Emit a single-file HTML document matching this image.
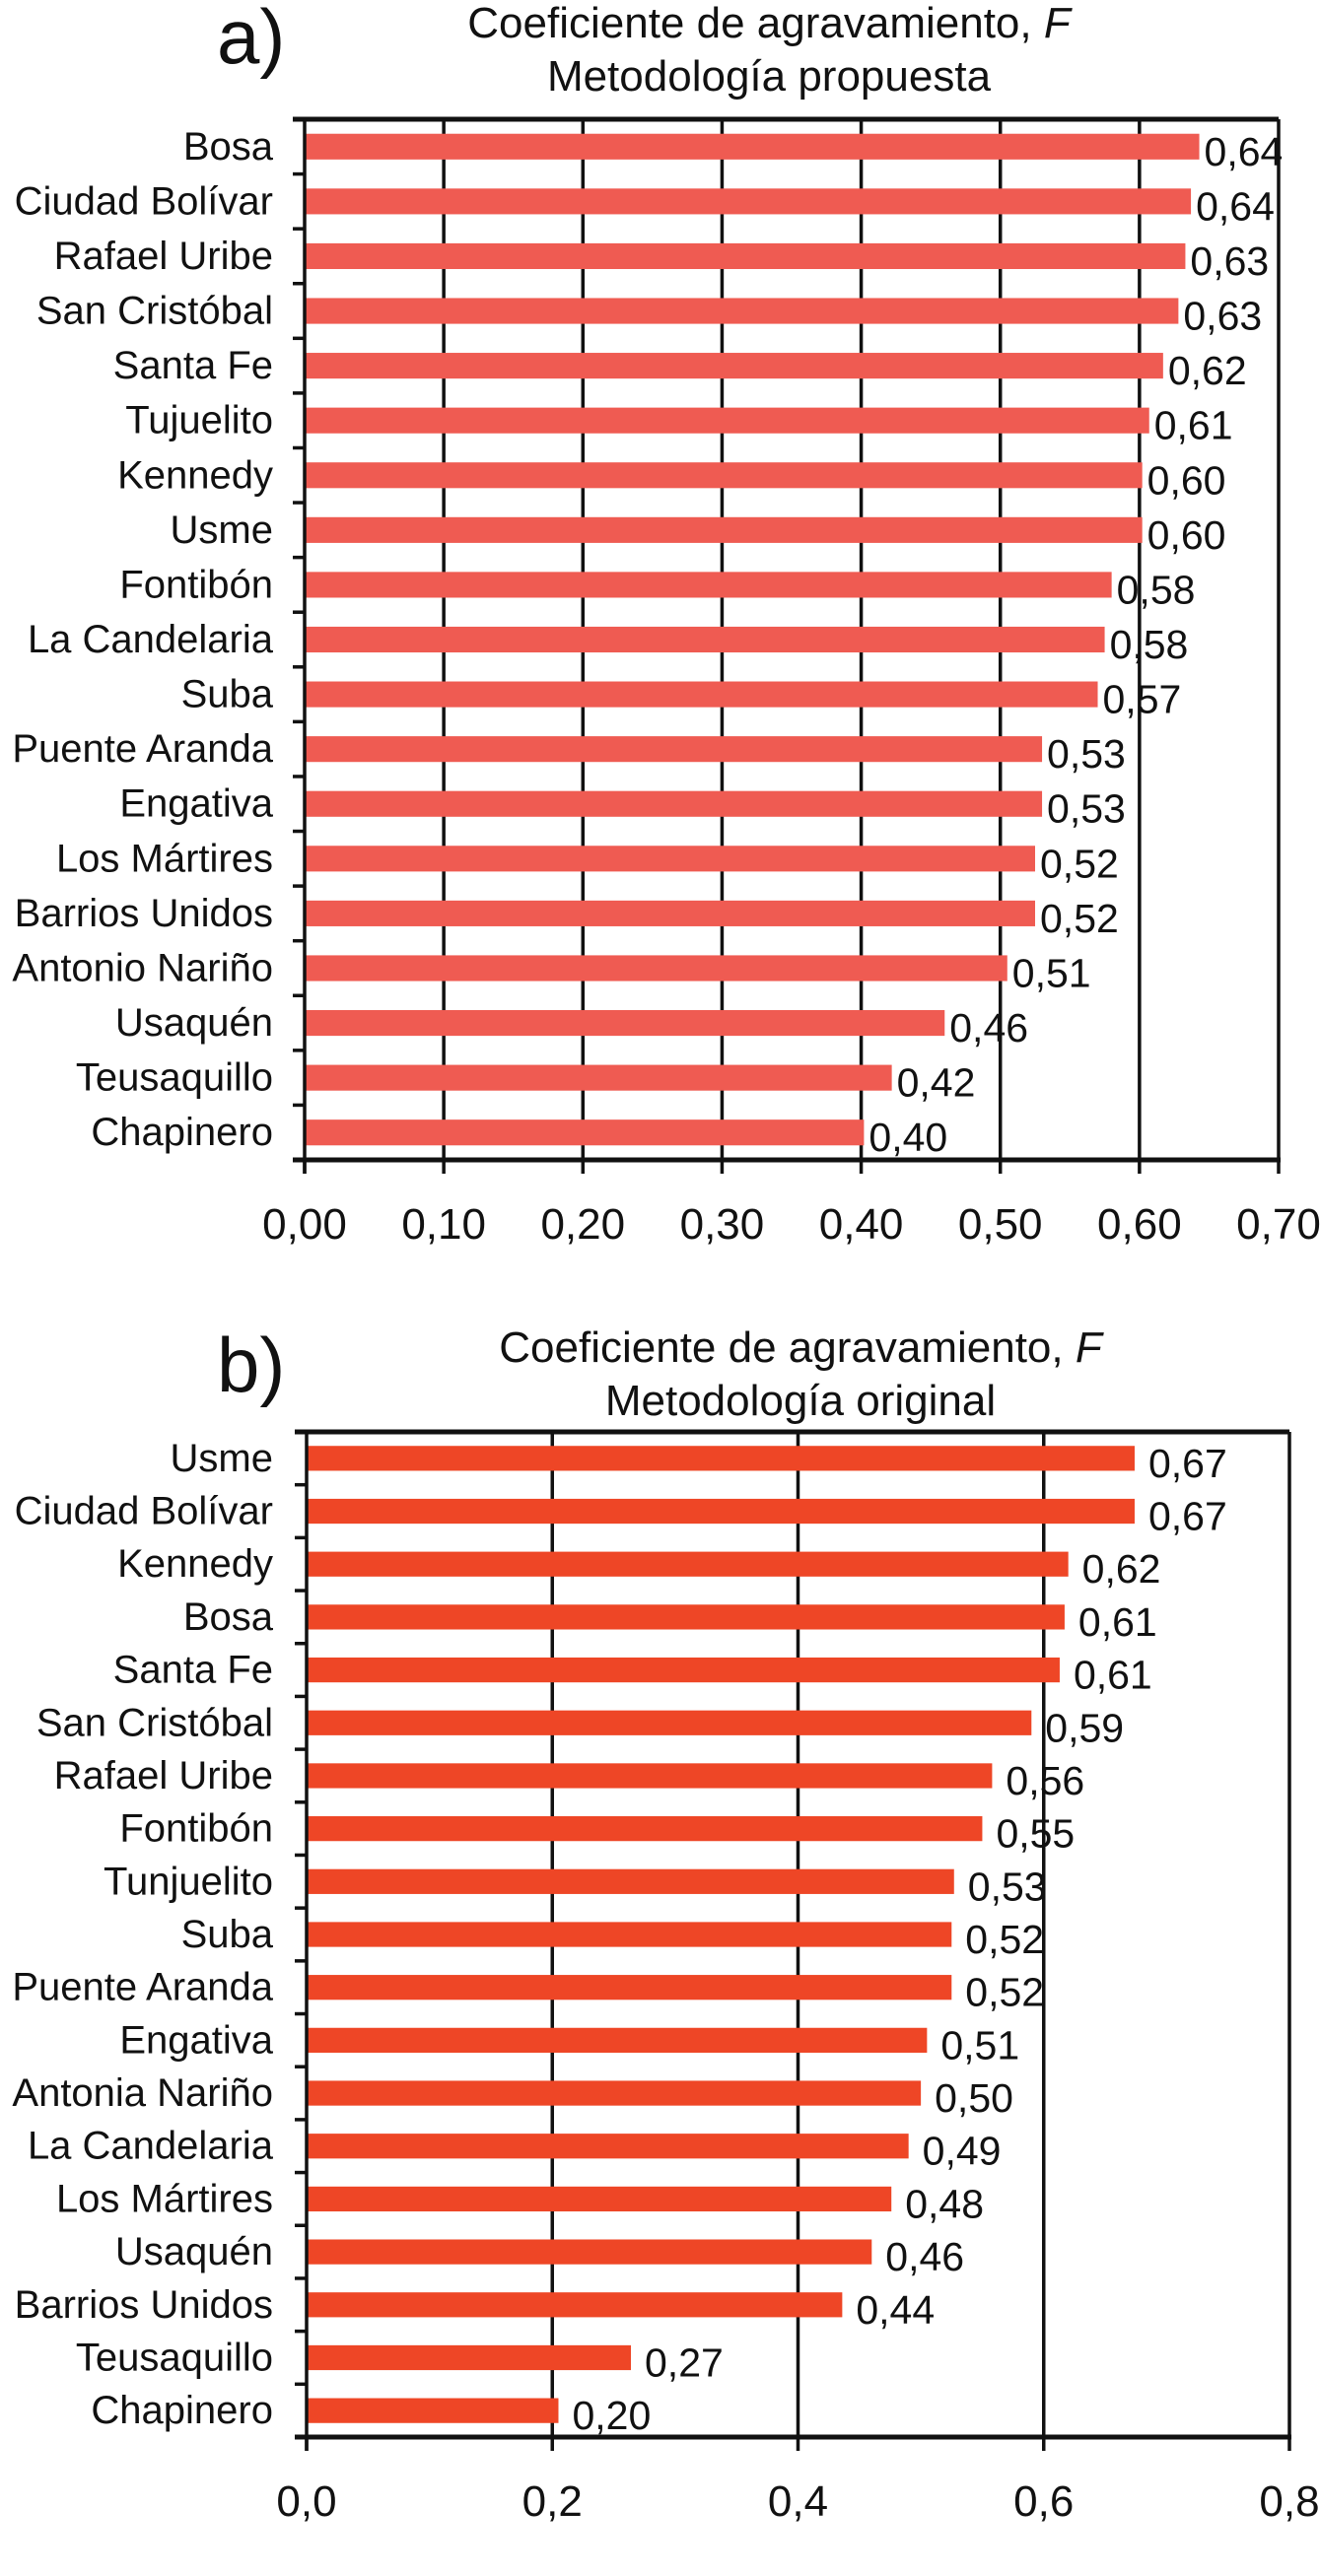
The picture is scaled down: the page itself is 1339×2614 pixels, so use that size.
<!DOCTYPE html>
<html><head><meta charset="utf-8"><style>
html,body{margin:0;padding:0;background:#fff}
svg{display:block;font-family:"Liberation Sans",sans-serif}
</style></head><body>
<svg id="s" width="1339" height="2614" viewBox="0 0 1339 2614" xmlns="http://www.w3.org/2000/svg"></svg>
<script>
const catsA=["Bosa","Ciudad Bolívar","Rafael Uribe","San Cristóbal","Santa Fe","Tujuelito","Kennedy","Usme","Fontibón","La Candelaria","Suba","Puente Aranda","Engativa","Los Mártires","Barrios Unidos","Antonio Nariño","Usaquén","Teusaquillo","Chapinero"];
const valsA=[0.643,0.637,0.633,0.628,0.617,0.607,0.602,0.602,0.58,0.575,0.57,0.53,0.53,0.525,0.525,0.505,0.46,0.422,0.402];
const labelsA=["0,64","0,64","0,63","0,63","0,62","0,61","0,60","0,60","0,58","0,58","0,57","0,53","0,53","0,52","0,52","0,51","0,46","0,42","0,40"];
const ticksA=[0,0.1,0.2,0.3,0.4,0.5,0.6,0.7];
const tickLabelsA=["0,00","0,10","0,20","0,30","0,40","0,50","0,60","0,70"];
const catsB=["Usme","Ciudad Bolívar","Kennedy","Bosa","Santa Fe","San Cristóbal","Rafael Uribe","Fontibón","Tunjuelito","Suba","Puente Aranda","Engativa","Antonia Nariño","La Candelaria","Los Mártires","Usaquén","Barrios Unidos","Teusaquillo","Chapinero"];
const valsB=[0.674,0.674,0.62,0.617,0.613,0.59,0.558,0.55,0.527,0.525,0.525,0.505,0.5,0.49,0.476,0.46,0.436,0.264,0.205];
const labelsB=["0,67","0,67","0,62","0,61","0,61","0,59","0,56","0,55","0,53","0,52","0,52","0,51","0,50","0,49","0,48","0,46","0,44","0,27","0,20"];
const ticksB=[0,0.2,0.4,0.6,0.8];
const tickLabelsB=["0,0","0,2","0,4","0,6","0,8"];

const svg=document.getElementById('s');
const NS="http://www.w3.org/2000/svg";
function mk(tag,attrs,parent){const e=document.createElementNS(NS,tag);for(const k in attrs)e.setAttribute(k,attrs[k]);(parent||svg).appendChild(e);return e;}

function chart(o){
  const g=mk('g',{});
  
  
  const x=v=>o.x0+(v-o.vmin)/(o.vmax-o.vmin)*(o.x1-o.x0);
  const band=(o.bottom-o.top)/o.cats.length;
  const y=i=>o.top+band*i;
  let t=mk('text',{x:o.letterX,y:o.letterY,'font-size':78,fill:'#111'},g);t.textContent=o.letter;
  
  
  t=mk('text',{x:o.titleX,y:o.titleY,'font-size':44,'text-anchor':'middle',fill:'#111'},g);
  
  
  t.appendChild(document.createTextNode('Coeficiente de agravamiento, '));
  const it=mk('tspan',{'font-style':'italic'},t);it.textContent='F';
  t=mk('text',{x:o.titleX,y:o.titleY+54,'font-size':44,'text-anchor':'middle',fill:'#111'},g);t.textContent=o.subtitle;
  
  
  o.ticks.forEach((v,i)=>{
    if(i>0){const l=mk('line',{x1:x(v),x2:x(v),y1:o.top,y2:o.bottom,stroke:'#111','stroke-width':3.5},g);
      
      }
    const tk=mk('line',{x1:x(v),x2:x(v),y1:o.bottom,y2:o.bottom+14,stroke:'#111','stroke-width':3.5},g);
    
    
    const tl=mk('text',{x:x(v),y:o.bottom+80,'font-size':44,'text-anchor':'middle',fill:'#111'},g);tl.textContent=o.tickLabels[i];
    
    
  });
  o.cats.forEach((c,i)=>{
    const bh=band*o.barFrac, by=y(i)+(band-bh)/2;
    const r=mk('rect',{x:x(0),y:by,width:x(o.vals[i])-x(0),height:bh,fill:o.color},g);
    
    
    const vl=mk('text',{x:x(o.vals[i])+o.lblOff,y:by+bh/2+19,'font-size':41,fill:'#111'},g);vl.textContent=o.labels[i];
    
    
    const cl=mk('text',{x:o.labelRight,y:y(i)+band/2+13,'font-size':40,'text-anchor':'end',fill:'#111'},g);cl.textContent=c;
    
    
    if(i>0){const tk=mk('line',{x1:o.x0-12,x2:o.x0,y1:y(i),y2:y(i),stroke:'#111','stroke-width':3.5},g);
      
      }
  });
  let a=mk('line',{x1:o.x0-12,x2:x(o.vmax),y1:o.top,y2:o.top,stroke:'#111','stroke-width':5},g);
  
  
  a=mk('line',{x1:o.x0,x2:o.x0,y1:o.top,y2:o.bottom+14,stroke:'#111','stroke-width':3.5},g);
  
  
  a=mk('line',{x1:o.x0-12,x2:x(o.vmax)+2,y1:o.bottom,y2:o.bottom,stroke:'#111','stroke-width':5},g);
  
  
}

chart({name:'chart-a-metodologia-propuesta',cats:catsA,vals:valsA,labels:labelsA,ticks:ticksA,tickLabels:tickLabelsA,
  vmin:0,vmax:0.7,x0:309,x1:1297,top:121,bottom:1177,barFrac:0.47,color:'#ef5b52',lblOff:5,labelRight:277,
  letter:'a)',letterX:220,letterY:64,titleX:780,titleY:38,subtitle:'Metodología propuesta'});
chart({name:'chart-b-metodologia-original',cats:catsB,vals:valsB,labels:labelsB,ticks:ticksB,tickLabels:tickLabelsB,
  vmin:0,vmax:0.8,x0:311,x1:1308,top:1453,bottom:2473,barFrac:0.47,color:'#ee4626',lblOff:14,labelRight:277,
  letter:'b)',letterX:220,letterY:1412,titleX:812,titleY:1382,subtitle:'Metodología original'});
</script>
</body></html>
